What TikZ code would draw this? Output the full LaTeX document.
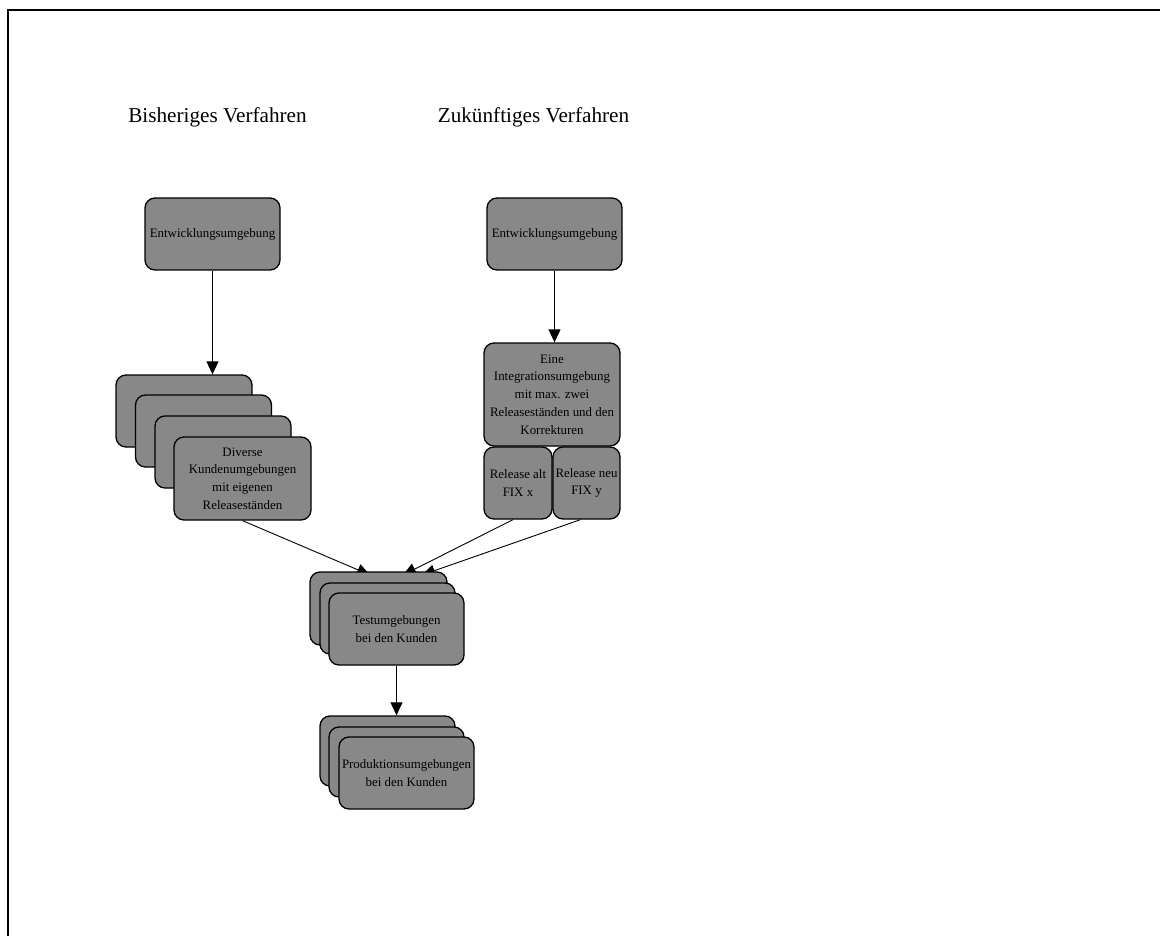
\documentclass[tikz,border=0pt]{standalone}
\usepackage{fontspec}
\setmainfont{Liberation Serif}
\usetikzlibrary{arrows.meta,backgrounds}
\definecolor{boxgray}{HTML}{888888}
\tikzset{
  envbox/.style={draw=black, line width=1.3pt, fill=boxgray, rounded corners=10pt,
    inner sep=0pt, align=center, font=\fontsize{12.9}{17.8}\selectfont},
  flow/.style={line width=0.9pt, -{Triangle[length=13pt,width=12pt]}},
  heading/.style={font=\fontsize{21.2}{25}\selectfont, inner sep=0pt}
}
\begin{document}
\begin{tikzpicture}[x=1pt,y=-1pt]
\useasboundingbox (0,0) rectangle (1160,936);
% frame
\draw[line width=1.3pt] (8,936) -- (8,10) -- (1160,10);

% headings
\node[heading] (h1) at (217.5,117) {Bisheriges Verfahren};
\node[heading] (h2) at (533.5,117) {Zukünftiges Verfahren};

% development environments
\node[envbox, minimum width=135pt, minimum height=72pt] (dev1) at (212.5,234) {Entwicklungsumgebung};
\node[envbox, minimum width=135pt, minimum height=72pt] (dev2) at (554.5,234) {Entwicklungsumgebung};

% customer environments (stack)
\node[envbox, minimum width=136pt, minimum height=72pt] (k1) at (184,411) {};
\node[envbox, minimum width=136pt, minimum height=72pt] (k2) at (203.5,431) {};
\node[envbox, minimum width=136pt, minimum height=72pt] (k3) at (223,452) {};
\node[envbox, minimum width=137pt, minimum height=83pt] (div) at (242.5,478.5)
  {Diverse\\Kundenumgebungen\\mit eigenen\\Releaseständen};

% integration environment
\node[envbox, minimum width=136pt, minimum height=103pt] (integ) at (552,394.5)
  {Eine\\Integrationsumgebung\\mit max. zwei\\Releaseständen und den\\Korrekturen};
\node[envbox, minimum width=68pt, minimum height=72pt] (relalt) at (518,483) {Release alt\\FIX x};
\node[envbox, minimum width=67pt, minimum height=72pt] (relneu) at (586.5,483) {Release neu\\FIX y};

% test environments (stack)
\node[envbox, minimum width=137pt, minimum height=73pt] (t1) at (378.5,608.5) {};
\node[envbox, minimum width=135pt, minimum height=71pt] (t2) at (387.5,618.5) {};
\node[envbox, minimum width=135pt, minimum height=72pt] (test) at (396.5,629)
  {Testumgebungen\\bei den Kunden};

% production environments (stack)
\node[envbox, minimum width=135pt, minimum height=70pt] (p1) at (387.5,751) {};
\node[envbox, minimum width=135pt, minimum height=70pt] (p2) at (396.5,762) {};
\node[envbox, minimum width=135pt, minimum height=72pt] (prod) at (406.5,773)
  {Produktionsumgebungen\\bei den Kunden};

% arrow tips hidden under the test stack
\coordinate (tipA) at (370,575);
\coordinate (tipB) at (403,575);
\coordinate (tipC) at (422,575);

\begin{scope}[on background layer]
  \draw[flow] (dev1.south) -- (dev1.south |- k1.north);
  \draw[flow] (dev2.south) -- (dev2.south |- integ.north);
  \draw[flow] (div.south) -- (tipA);
  \draw[flow] ([xshift=-5pt]relalt.south) -- (tipB);
  \draw[flow] ([xshift=-6pt]relneu.south) -- (tipC);
  \draw[flow] (test.south) -- (test.south |- p1.north);
\end{scope}
\end{tikzpicture}
\end{document}
